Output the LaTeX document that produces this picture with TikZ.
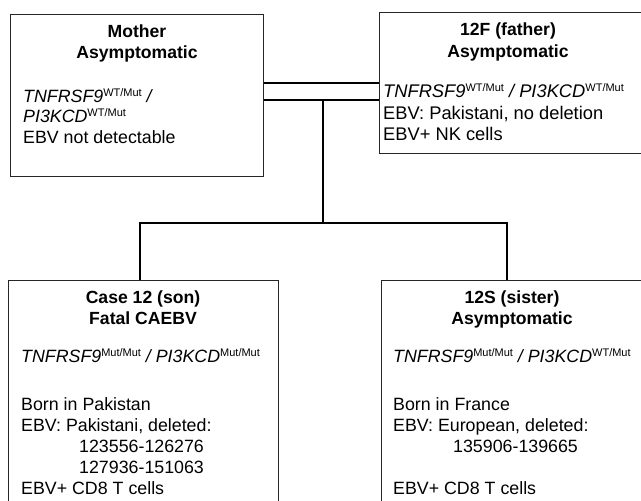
\documentclass[tikz,border=0pt]{standalone}
\usepackage{fontspec}
\setmainfont{Liberation Sans}
\newcommand{\gsup}[1]{\raisebox{5.6pt}{\fontsize{11}{12}\selectfont\upshape #1}}
\begin{document}
\begin{tikzpicture}[x=1pt,y=-1pt,
  box/.style={draw=black!85,line width=1.1pt,rectangle,inner sep=0pt,anchor=north west},
  conn/.style={draw=black,line width=1.6pt},
  ttl/.style={anchor=base,inner sep=0pt,font=\fontsize{17.6}{21}\selectfont\bfseries},
  txt/.style={anchor=base west,inner sep=0pt,font=\fontsize{17.8}{21}\selectfont},
  ftxt/.style={txt,font=\fontsize{18.3}{21}\selectfont}]
\useasboundingbox[fill=white] (0,0) rectangle (641,501);
% boxes
\node[box,minimum width=253pt,minimum height=162pt] (mother) at (10,14) {};
\node[box,minimum width=264pt,minimum height=141pt] (father) at (379,12) {};
\node[box,minimum width=270pt,minimum height=230pt] (son) at (8,280) {};
\node[box,minimum width=264pt,minimum height=230pt] (sister) at (381,280) {};
% mother text
\node[ttl] (m1) at (137,37) {Mother};
\node[ttl] (m2) at (137,58) {Asymptomatic};
\node[txt] (m3) at (23,102) {\itshape TNFRSF9\gsup{WT/Mut} /};
\node[txt] (m4) at (23,122) {\itshape PI3KCD\gsup{WT/Mut}};
\node[txt] (m5) at (23,143) {EBV not detectable};
% father text
\node[ttl] (f1) at (508,35) {12F (father)};
\node[ttl] (f2) at (508,57) {Asymptomatic};
\node[ftxt] (f3) at (383,97) {\itshape TNFRSF9\gsup{WT/Mut} / PI3KCD\gsup{WT/Mut}};
\node[ftxt] (f4) at (383,119) {EBV: Pakistani, no deletion};
\node[ftxt] (f5) at (383,140) {EBV+ NK cells};
% son text
\node[ttl] (s1) at (143,303) {Case 12 (son)};
\node[ttl] (s2) at (143,324) {Fatal CAEBV};
\node[txt] (s3) at (21,362) {\itshape TNFRSF9\gsup{Mut/Mut} / PI3KCD\gsup{Mut/Mut}};
\node[txt] (s4) at (21,410) {Born in Pakistan};
\node[txt] (s5) at (21,431) {EBV: Pakistani, deleted:};
\node[txt] (s6) at (79,452) {123556-126276};
\node[txt] (s7) at (79,473) {127936-151063};
\node[txt] (s8) at (21,494) {EBV+ CD8 T cells};
% sister text
\node[ttl] (d1) at (512,303) {12S (sister)};
\node[ttl] (d2) at (512,324) {Asymptomatic};
\node[txt] (d3) at (393,362) {\itshape TNFRSF9\gsup{Mut/Mut} / PI3KCD\gsup{WT/Mut}};
\node[txt] (d4) at (393,410) {Born in France};
\node[txt] (d5) at (393,431) {EBV: European, deleted:};
\node[txt] (d6) at (453,452) {135906-139665};
\node[txt] (d8) at (393,494) {EBV+ CD8 T cells};
% connectors
\coordinate (r1) at (0,83);
\coordinate (r2) at (0,100);
\coordinate (c1) at (323,100);
\coordinate (j) at (323,223);
\coordinate (jl) at (140,223);
\coordinate (jr) at (507,223);
\draw[conn] (mother.east |- r1) -- (father.west |- r1);
\draw[conn] (mother.east |- r2) -- (father.west |- r2);
\draw[conn] (c1) -- (j);
\draw[conn] (son.north -| jl) -- (jl) -- (jr) -- (sister.north -| jr);
\end{tikzpicture}
\end{document}
